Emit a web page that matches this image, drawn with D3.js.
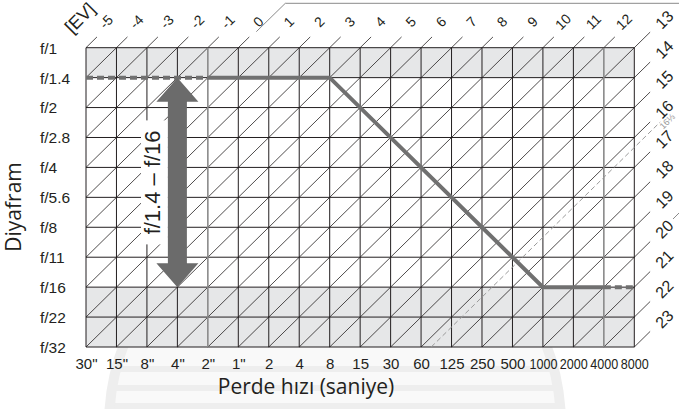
<!DOCTYPE html>
<html>
<head>
<meta charset="utf-8">
<script src="https://cdn.jsdelivr.net/npm/d3@7"></script>
<style>
  html, body { margin: 0; padding: 0; background: #fff; }
  svg { display: block; }
</style>
</head>
<body>
<svg id="chart" width="679" height="409"></svg>
<script>
// Shutter speeds (columns) and apertures (rows) of the exposure program grid
const shutterLabels = ['30"', '15"', '8"', '4"', '2"', '1"', '2', '4', '8', '15', '30', '60', '125', '250', '500', '1000', '2000', '4000', '8000'];
const apertureLabels = ['f/1', 'f/1.4', 'f/2', 'f/2.8', 'f/4', 'f/5.6', 'f/8', 'f/11', 'f/16', 'f/22', 'f/32'];

// EV values labelled along the top edge and along the right edge
const evTop = [-5, -4, -3, -2, -1, 0, 1, 2, 3, 4, 5, 6, 7, 8, 9, 10, 11, 12];
const evRight = [13, 14, 15, 16, 17, 18, 19, 20, 21, 22, 23];
const evMarked = 16 + 1 / 3;
const evMarkedLabel = '16⅓';

// Program line: [shutter, aperture] points
const programLowDashed = [['30"', 'f/1.4'], ['2"', 'f/1.4']];
const programSolid = [['2"', 'f/1.4'], ['8', 'f/1.4'], ['1000', 'f/16'], ['4000', 'f/16']];
const programHighDashed = [['4000', 'f/16'], ['8000', 'f/16']];

// Aperture range arrow
const rangeShutter = '4"';
const rangeApertures = ['f/1.4', 'f/16'];
const rangeLabel = 'f/1.4 – f/16';

// Shaded aperture bands and shutter limit lines
const shadedBands = [['f/1', 'f/1.4'], ['f/16', 'f/32']];
const limitShutters = ['2"', '4000'];

const xTitle = 'Perde hızı (saniye)';
const yTitle = 'Diyafram';
const evTitle = '[EV]';

const svg = d3.select('#chart');
const x = d3.scalePoint().domain(shutterLabels).range([86, 634.3]);
const y = d3.scalePoint().domain(apertureLabels).range([47.7, 347]);
const col = d3.scaleLinear().domain([0, shutterLabels.length - 1]).range(x.range());
const row = d3.scaleLinear().domain([0, apertureLabels.length - 1]).range(y.range());
const nCol = shutterLabels.length - 1, nRow = apertureLabels.length - 1;
const [x0, x1] = x.range(), [y0, y1] = y.range();

const INK = '#231f20';
const SHADE = '#e6e7e8';
const PROG = '#707070';

// Faint background emblem
const emblem = svg.append('g');
emblem.append('clipPath').attr('id', 'emblemClip')
  .append('circle').attr('cx', 335).attr('cy', 425).attr('r', 226);
emblem.append('circle').attr('cx', 335).attr('cy', 425).attr('r', 226)
  .attr('fill', '#f9f9f9');
[366, 385, 403].forEach(sy => {
  emblem.append('rect').attr('clip-path', 'url(#emblemClip)')
    .attr('x', 100).attr('y', sy).attr('width', 480).attr('height', 6)
    .attr('fill', '#eeeeee');
});
emblem.append('circle').attr('cx', 335).attr('cy', 425).attr('r', 226)
  .attr('fill', 'none').attr('stroke', '#eeeeee').attr('stroke-width', 10);

// Grid background and shaded bands
svg.append('rect').attr('x', x0).attr('y', y0).attr('width', x1 - x0).attr('height', y1 - y0)
  .attr('fill', '#fff');
svg.selectAll('rect.band').data(shadedBands).join('rect').attr('class', 'band')
  .attr('x', x0).attr('width', x1 - x0)
  .attr('y', d => y(d[0])).attr('height', d => y(d[1]) - y(d[0]))
  .attr('fill', SHADE);

// EV diagonals: row = ev + 5 - column
const evPt = (ev, c) => [col(c), row(ev + 5 - c)];
const evLines = d3.range(-5, 24).map(ev => {
  const cStart = Math.max(0, ev + 5 - nRow);
  const exitsTop = ev + 5 <= nCol - 1;
  const cEnd = Math.min(nCol, ev + 5);
  const ext = exitsTop ? 0.36 : 0.52;
  return { ev, pts: [evPt(ev, cStart), evPt(ev, cEnd + ext)] };
});
svg.selectAll('line.ev').data(evLines).join('line').attr('class', 'ev')
  .attr('x1', d => d.pts[0][0]).attr('y1', d => d.pts[0][1])
  .attr('x2', d => d.pts[1][0]).attr('y2', d => d.pts[1][1])
  .attr('stroke', INK).attr('stroke-width', 0.8);

// Grid lines
svg.selectAll('line.h').data(apertureLabels).join('line').attr('class', 'h')
  .attr('x1', x0).attr('x2', x1).attr('y1', d => y(d)).attr('y2', d => y(d))
  .attr('stroke', INK).attr('stroke-width', 1);
svg.selectAll('line.v').data(shutterLabels).join('line').attr('class', 'v')
  .attr('x1', d => x(d)).attr('x2', d => x(d)).attr('y1', y0).attr('y2', y1)
  .attr('stroke', d => limitShutters.includes(d) ? '#8a8a8a' : INK)
  .attr('stroke-width', d => limitShutters.includes(d) ? 1.6 : 1);

// Marked EV reference line
const mStart = evMarked + 5 - nRow;
const mA = evPt(evMarked, mStart), mB = evPt(evMarked, nCol + 0.85);
svg.append('line').attr('x1', mA[0]).attr('y1', mA[1]).attr('x2', mB[0]).attr('y2', mB[1])
  .attr('stroke', '#9a9a9a').attr('stroke-width', 1).attr('stroke-dasharray', '5,3');
const mL = evPt(evMarked, nCol);
svg.append('text').attr('transform', `translate(${mL[0] + 33},${mL[1] - 26}) rotate(-45)`)
  .attr('text-anchor', 'middle').attr('dominant-baseline', 'central')
  .attr('font-family', 'Liberation Sans, Arial, sans-serif').attr('font-size', 9)
  .attr('fill', '#9a9a9a').text(evMarkedLabel);

// EV labels
const evFont = 'Liberation Sans, Arial, sans-serif';
svg.selectAll('text.evt').data(evTop).join('text').attr('class', 'evt')
  .attr('transform', d => { const p = evPt(d, d + 5); return `translate(${p[0] + 20},${p[1] - 26}) rotate(-45)`; })
  .attr('text-anchor', 'middle').attr('dominant-baseline', 'central')
  .attr('font-family', evFont).attr('font-size', 14).attr('fill', '#231f20')
  .text(d => d);
svg.selectAll('text.evr').data(evRight).join('text').attr('class', 'evr')
  .attr('transform', d => { const p = evPt(d, nCol); return `translate(${p[0] + 30},${p[1] - 28}) rotate(-45)`; })
  .attr('text-anchor', 'middle').attr('dominant-baseline', 'central')
  .attr('font-family', evFont).attr('font-size', 16).attr('fill', '#231f20')
  .text(d => d);
svg.append('text').attr('transform', 'translate(80,18) rotate(-45)')
  .attr('text-anchor', 'middle').attr('dominant-baseline', 'central')
  .attr('font-family', evFont).attr('font-size', 18).attr('fill', '#231f20')
  .text(evTitle);

// Bracket lines at the top and right
const b0 = evPt(0, 5);
svg.append('path')
  .attr('d', `M${b0[0] + 18},${b0[1] - 16} L${b0[0] + 47},3.3 L679,3.3`)
  .attr('fill', 'none').attr('stroke', '#8a8a8a').attr('stroke-width', 1);
svg.append('line').attr('x1', 673).attr('y1', 219).attr('x2', 679).attr('y2', 213)
  .attr('stroke', '#8a8a8a').attr('stroke-width', 1);

// Program line
const line = d3.line().x(d => x(d[0])).y(d => y(d[1]));
svg.append('path').attr('d', line(programLowDashed)).attr('fill', 'none')
  .attr('stroke', PROG).attr('stroke-width', 4).attr('stroke-dasharray', '7,4');
svg.append('path').attr('d', line(programSolid)).attr('fill', 'none')
  .attr('stroke', PROG).attr('stroke-width', 4).attr('stroke-linejoin', 'miter');
svg.append('path').attr('d', line(programHighDashed)).attr('fill', 'none')
  .attr('stroke', PROG).attr('stroke-width', 4).attr('stroke-dasharray', '7,4');

// Range label with white backing
const ax = x(rangeShutter), ayTop = y(rangeApertures[0]), ayBot = y(rangeApertures[1]);
const ayMid = (ayTop + ayBot) / 2;
svg.append('rect').attr('x', 141).attr('y', ayMid - 62).attr('width', ax - 9.5 - 141).attr('height', 124)
  .attr('fill', '#fff');
svg.append('text').attr('transform', `translate(160,${ayMid}) rotate(-90)`)
  .attr('text-anchor', 'middle')
  .attr('font-family', 'Liberation Sans, Arial, sans-serif').attr('font-size', 22)
  .attr('fill', '#231f20').text(rangeLabel);

// Double-headed arrow
const hw = 21, hh = 24, sw = 9.5;
svg.append('path').attr('fill', '#6b6b6b').attr('d', [
  `M${ax},${ayTop}`, `L${ax + hw},${ayTop + hh}`, `L${ax + sw},${ayTop + hh}`,
  `L${ax + sw},${ayBot - hh}`, `L${ax + hw},${ayBot - hh}`, `L${ax},${ayBot}`,
  `L${ax - hw},${ayBot - hh}`, `L${ax - sw},${ayBot - hh}`, `L${ax - sw},${ayTop + hh}`,
  `L${ax - hw},${ayTop + hh}`, 'Z'].join(' '));

// Axes
const tickFont = 'Liberation Sans, Arial, sans-serif';
const xAxis = svg.append('g').attr('transform', `translate(0,${y1})`)
  .call(d3.axisBottom(x).tickSize(0).tickPadding(11));
xAxis.select('.domain').remove();
xAxis.selectAll('text').attr('font-family', tickFont).attr('font-size', 15).attr('fill', '#231f20')
  .attr('dy', '0.71em')
  .attr('transform', d => d.length >= 4 ? 'scale(0.84,1)' : null);

const yAxis = svg.append('g').attr('transform', `translate(${x0},0)`)
  .call(d3.axisLeft(y).tickSize(0));
yAxis.select('.domain').remove();
yAxis.selectAll('text').attr('font-family', tickFont).attr('font-size', 15.5).attr('fill', '#231f20')
  .attr('text-anchor', 'start').attr('x', 40 - x0).attr('dy', '0.35em');

// Axis titles
svg.append('text').attr('x', 306).attr('y', 394).attr('text-anchor', 'middle')
  .attr('font-family', 'Open Sans, Noto Sans, sans-serif').attr('font-size', 21).attr('fill', '#231f20')
  .text(xTitle);
svg.append('text').attr('transform', `translate(21,207) rotate(-90)`).attr('text-anchor', 'middle')
  .attr('font-family', 'Open Sans, Noto Sans, sans-serif').attr('font-size', 21).attr('fill', '#231f20')
  .text(yTitle);
</script>
</body>
</html>
